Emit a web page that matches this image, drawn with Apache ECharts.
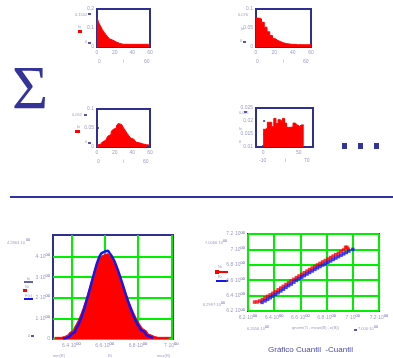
<!DOCTYPE html>
<html>
<head>
<meta charset="utf-8">
<script src="https://cdn.jsdelivr.net/npm/echarts@6/dist/echarts.min.js"></script>
<style>
html,body{margin:0;padding:0;background:#fff;}
#main{width:393px;height:358px;}
</style>
</head>
<body>
<div id="main"></div>
<script>
// histogramas pequeños (valor de cada clase)
var h1Start = 0, h1Width = 2;
var h1 = [0.155, 0.127, 0.11, 0.092, 0.078, 0.066, 0.055, 0.043, 0.036, 0.031, 0.026, 0.023, 0.018, 0.015, 0.014,
  0.014, 0.014, 0.014, 0.014, 0.014, 0.014, 0.014, 0.014, 0.014, 0.014, 0.014, 0.014, 0.014, 0.014, 0.014];
var h2Start = 0, h2Width = 3;
var h2 = [0.076, 0.074, 0.065, 0.052, 0.04, 0.03, 0.022, 0.017, 0.014, 0.011, 0.009, 0.008, 0.007, 0.007,
  0.006, 0.006, 0.006, 0.006, 0.006, 0.006];
var h3Start = 0, h3Width = 2;
var h3 = [0.005, 0.007, 0.009, 0.013, 0.018, 0.022, 0.028, 0.033, 0.04, 0.046, 0.05, 0.056, 0.062, 0.059, 0.054,
  0.05, 0.044, 0.036, 0.03, 0.024, 0.02, 0.016, 0.013, 0.011, 0.009, 0.008, 0.007, 0.006, 0.005, 0.005];
var h4Start = 0, h4Width = 3;
var h4 = [0.0168, 0.0172, 0.0195, 0.0195, 0.0178, 0.021, 0.019, 0.0205, 0.0198, 0.021, 0.0192, 0.0175,
  0.0176, 0.0177, 0.0192, 0.0185, 0.018, 0.0185, 0.0185];

// histograma de la suma (rojo) y F(x) (azul)
var rStart = 6.30, rWidth = 0.01;
var rVals = [0.08, 0.08, 0.08, 0.08, 0.1, 0.12, 0.15, 0.2, 0.26, 0.32,
  0.4, 0.48, 0.58, 0.72, 0.88, 1.06, 1.26, 1.48, 1.72, 1.98,
  2.24, 2.5, 2.78, 3.05, 3.3, 3.52, 3.72, 3.9, 4.02, 4.1,
  4.15, 4.14, 4.1, 4.04, 3.94, 3.8, 3.64, 3.45, 3.25, 3.04,
  2.82, 2.6, 2.38, 2.16, 1.95, 1.74, 1.54, 1.35, 1.17, 1.0,
  0.85, 0.72, 0.6, 0.49, 0.4, 0.32, 0.25, 0.19, 0.15, 0.12,
  0.1, 0.08, 0.08, 0.08, 0.08, 0.08, 0.08, 0.08, 0.08, 0.08];
var fStart = 6.35, fWidth = 0.01;
var fVals = [0.02, 0.05, 0.08, 0.12, 0.18, 0.24, 0.32, 0.4, 0.52, 0.66,
  0.84, 1.04, 1.28, 1.54, 1.82, 2.1, 2.4, 2.7, 3.0, 3.3,
  3.58, 3.82, 4.02, 4.16, 4.25, 4.3, 4.29, 4.25, 4.17, 4.06,
  3.92, 3.75, 3.55, 3.33, 3.1, 2.85, 2.6, 2.34, 2.08, 1.83,
  1.6, 1.38, 1.18, 0.99, 0.82, 0.67, 0.54, 0.43, 0.34, 0.26,
  0.19, 0.13, 0.08, 0.04];

// gráfico cuantil-cuantil
var qqRedX = [6.25, 6.27, 6.29, 6.31, 6.33, 6.35, 6.37, 6.39, 6.41, 6.43, 6.45, 6.47, 6.49, 6.51, 6.53, 6.55,
  6.57, 6.59, 6.61, 6.63, 6.65, 6.67, 6.69, 6.71, 6.73, 6.75, 6.77, 6.79, 6.81, 6.83, 6.85, 6.87, 6.89,
  6.91, 6.93, 6.945, 6.955, 6.965];
var qqRedY = [6.316, 6.318, 6.33, 6.35, 6.37, 6.39, 6.41, 6.43, 6.452, 6.475, 6.498, 6.52, 6.545, 6.567, 6.59,
  6.612, 6.634, 6.655, 6.676, 6.697, 6.718, 6.738, 6.758, 6.778, 6.798, 6.818, 6.837, 6.856, 6.875, 6.894,
  6.913, 6.932, 6.952, 6.972, 6.993, 7.027, 7.027, 7.005];
var qqBlueX = [6.307, 6.33, 6.35, 6.37, 6.39, 6.41, 6.43, 6.45, 6.47, 6.49, 6.51, 6.53, 6.55, 6.57, 6.59, 6.61,
  6.63, 6.65, 6.67, 6.69, 6.71, 6.73, 6.75, 6.77, 6.79, 6.81, 6.83, 6.85, 6.87, 6.89, 6.91, 6.93, 6.95, 6.97, 7.0];
var qqBlueY = [6.312, 6.332, 6.352, 6.373, 6.393, 6.415, 6.437, 6.46, 6.483, 6.507, 6.53, 6.55, 6.575, 6.598,
  6.62, 6.64, 6.66, 6.68, 6.7, 6.72, 6.74, 6.76, 6.778, 6.797, 6.813, 6.832, 6.85, 6.87, 6.888, 6.906,
  6.925, 6.942, 6.96, 6.978, 7.0];

var titleText = 'Gráfico Cuantil  -Cuantil';

var navy = '#2f2f8f';
var lab = '#9c9cc8';
var sup = '#5656aa';
var green = '#00ee00';
var font = 'Liberation Sans';

// escalones: cada clase se dibuja de su borde izquierdo al siguiente
function steps(start, width, vals) {
  var d = [];
  for (var i = 0; i < vals.length; i++) d.push([start + i * width, vals[i]]);
  d.push([start + vals.length * width, vals[vals.length - 1]]);
  return d;
}
function zip(xs, ys) {
  return xs.map(function (x, i) { return [x, ys[i]]; });
}
function sci(v) {
  if (v === 0) return '{m|0}';
  return '{m|' + (+v.toFixed(1)) + '·10}{s|00}';
}
var richLab = {
  m: { fontSize: 5, color: lab, fontFamily: font },
  s: { fontSize: 4, color: sup, fontFamily: font, padding: [0, 0, 3, 0] }
};

function grid(l, t, w, h) {
  return { left: l, top: t, width: w, height: h, show: true, borderColor: navy, borderWidth: 2,
    containLabel: false, outerBoundsMode: 'none' };
}
function smallAxis(gi, min, max, interval, extra) {
  var a = {
    gridIndex: gi, type: 'value', min: min, max: max,
    axisLine: { show: false },
    axisTick: { show: true, inside: true, length: 2, lineStyle: { color: navy, width: 1.5 } },
    splitLine: { show: false },
    axisLabel: { fontSize: 5, color: lab, margin: 3, fontFamily: font }
  };
  if (interval) a.interval = interval;
  if (extra) {
    for (var k in extra) {
      if (typeof extra[k] === 'object' && a[k]) { for (var j in extra[k]) a[k][j] = extra[k][j]; }
      else a[k] = extra[k];
    }
  }
  return a;
}
function bigAxis(gi, min, max, interval, custom) {
  var a = {
    gridIndex: gi, type: 'value', min: min, max: max,
    axisLine: { show: false },
    axisTick: { show: false },
    splitLine: { show: true, lineStyle: { color: green, width: 2 } },
    axisLabel: { margin: 3, formatter: sci, rich: richLab }
  };
  if (interval) a.interval = interval;
  if (custom) { a.axisTick.customValues = custom; a.axisLabel.customValues = custom; }
  return a;
}
function histSeries(i, data) {
  return { type: 'line', xAxisIndex: i, yAxisIndex: i, step: 'end', symbol: 'none', data: data,
    lineStyle: { color: '#ff0000', width: 1 }, areaStyle: { color: '#ff0000', opacity: 1, origin: 'start' } };
}

function txt(x, y, s, size, color, align) {
  return { type: 'text', x: x, y: y, style: { text: s, fontSize: size || 5, fill: color || lab,
    fontFamily: font, align: align || 'left', verticalAlign: 'middle' } };
}
function box(x, y, w, h, color) {
  return { type: 'rect', shape: { x: x, y: y, width: w, height: h }, style: { fill: color } };
}
function seg(x1, y1, x2, y2, color, w) {
  return { type: 'line', shape: { x1: x1, y1: y1, x2: x2, y2: y2 }, style: { stroke: color, lineWidth: w } };
}

var graphics = [
  { type: 'text', x: 30, y: 92, style: { text: 'Σ', fontSize: 62, fill: '#33339a', fontFamily: 'Liberation Serif',
    align: 'center', verticalAlign: 'middle' } },
  box(342, 143, 5, 6, '#3333a0'), box(358, 143, 5, 6, '#3333a0'), box(374, 143, 5, 6, '#3333a0'),
  seg(10, 197, 393, 197, '#3030a0', 2),

  // etiquetas tipo Mathcad, histograma 1
  txt(75, 15, '0.1552', 4), box(88, 13, 3, 2, sup),
  txt(78, 27, 'hi', 4), box(78, 30, 4, 3, '#ff0000'),
  txt(85, 42, '0', 4), box(88, 42, 3, 2, sup),
  txt(98, 62, '0'), txt(123, 62, 'i'), txt(144, 62, '60'),
  // histograma 2
  txt(238, 15, '0.076', 4), txt(241, 29, 'hi', 4), txt(240, 41, '0', 4), box(243, 41, 3, 2, sup),
  txt(256, 62, '0'), txt(283, 62, 'i'), txt(303, 62, '60'),
  // histograma 3
  txt(72, 115, '0.062', 4), box(84, 114, 3, 2, sup),
  txt(77, 127, 'hi', 4), box(75, 130, 5, 3, '#ff0000'),
  txt(85, 142, '0', 4), box(88, 142, 3, 2, sup),
  txt(97, 162, '0'), txt(123, 162, 'i'), txt(143, 162, '60'),
  // histograma 4
  txt(239, 113, '0.021', 4), box(244, 111, 3, 2, sup),
  txt(239, 129, 'hi', 4), txt(239, 142, '0', 4),
  txt(259, 161, '-10'), txt(285, 161, 'i'), txt(304, 161, '70'),

  // histograma de la suma
  txt(7, 243, '4.2863·10', 4), txt(26, 240, '00', 3.5, sup),
  txt(27, 279, 'hi', 4), seg(24, 282, 33, 282, navy, 1.5),
  txt(25, 287, 'Ni', 4), box(23, 289, 4, 3, '#ff0000'),
  txt(25, 296, 'F(x)', 4), seg(24, 299, 33, 299, '#1515f0', 2),
  txt(28, 336, '0', 4), box(31, 335, 3, 2, sup),
  txt(53, 356, 'min(R)', 4), txt(108, 356, 'Ri', 4), txt(157, 356, 'max(R)', 4),

  // cuantil-cuantil
  txt(205, 243, '7.0066·10', 4), txt(223, 241, '00', 3.5, sup),
  txt(218, 267, 'Ni', 4), seg(216, 272, 228, 272, '#ff0000', 2), box(215, 270, 4, 4, '#ff0000'),
  txt(218, 277, 'Bi', 4), seg(216, 281, 228, 281, '#1515f0', 2),
  txt(203, 305, '6.2997·10', 4), txt(221, 303, '00', 3.5, sup),
  txt(247, 329, '6.2656·10', 4), txt(265, 327, '00', 3.5, sup),
  txt(292, 328, 'qnorm(Ti , mean(B) , σ(B))', 4),
  box(354, 329, 3, 2, sup), txt(358, 329, '7.006·10', 4), txt(374, 327, '00', 3.5, sup)
];

var option = {
  animation: false,
  backgroundColor: '#ffffff',
  title: { text: titleText, left: 263, top: 341,
    textStyle: { fontSize: 8, fontWeight: 'normal', color: '#4c4ca8', fontFamily: font } },
  grid: [
    grid(97, 9, 53, 38),
    grid(256, 9, 55, 38),
    grid(97, 109, 53, 38),
    grid(256, 108, 57, 39),
    grid(53, 235, 120, 104),
    grid(248, 234, 131, 77)
  ],
  xAxis: [
    smallAxis(0, 0, 60, 20),
    smallAxis(1, 0, 60, 20),
    smallAxis(2, 0, 60, 20),
    smallAxis(3, -10, 70, null, { axisTick: { customValues: [0, 50] }, axisLabel: { customValues: [0, 50] } }),
    bigAxis(4, 6.29, 7.01, null, [6.4, 6.6, 6.8, 7.0]),
    bigAxis(5, 6.2, 7.2, 0.2)
  ],
  yAxis: [
    smallAxis(0, 0, 0.2, 0.1),
    smallAxis(1, 0, 0.1, 0.05),
    smallAxis(2, 0, 0.1, 0.05),
    smallAxis(3, 0.01, 0.025, 0.005),
    bigAxis(4, 0, 5.05, null, [0, 1, 2, 3, 4]),
    bigAxis(5, 6.2, 7.2, 0.2)
  ],
  series: [
    histSeries(0, steps(h1Start, h1Width, h1)),
    histSeries(1, steps(h2Start, h2Width, h2)),
    histSeries(2, steps(h3Start, h3Width, h3)),
    histSeries(3, steps(h4Start, h4Width, h4)),
    histSeries(4, steps(rStart, rWidth, rVals)),
    { type: 'line', xAxisIndex: 4, yAxisIndex: 4, step: 'end', symbol: 'none',
      data: steps(fStart, fWidth, fVals), lineStyle: { color: '#1515f0', width: 2.5 } },
    { type: 'scatter', xAxisIndex: 5, yAxisIndex: 5, symbol: 'rect', symbolSize: 3.5,
      data: zip(qqRedX, qqRedY), itemStyle: { color: '#ff0000' } },
    { type: 'scatter', xAxisIndex: 5, yAxisIndex: 5, symbol: 'rect', symbolSize: 3.5,
      data: zip(qqBlueX, qqBlueY), itemStyle: { color: '#1515f0' } }
  ],
  graphic: graphics
};

var myChart = echarts.init(document.getElementById('main'));
myChart.setOption(option);
</script>
</body>
</html>
